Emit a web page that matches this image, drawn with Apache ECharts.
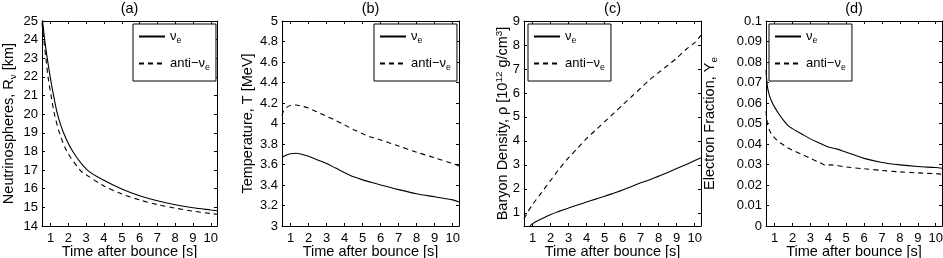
<!DOCTYPE html>
<html>
<head>
<meta charset="utf-8">
<script src="https://cdn.jsdelivr.net/npm/echarts@6.0.0/dist/echarts.min.js"></script>
<style>
html,body{margin:0;padding:0;background:#fff;}
#chart{width:943px;height:258px;}
</style>
</head>
<body>
<div id="chart"></div>
<script>
// ---------------- DATA ----------------
const xTickValues = [1, 2, 3, 4, 5, 6, 7, 8, 9, 10];
const panelTitles = ['(a)', '(b)', '(c)', '(d)'];
const xAxisName = 'Time after bounce [s]';

// (a) Neutrinosphere radius [km]
const aNueTime   = [0.52, 0.67, 0.80, 0.98, 1.17, 1.39, 1.73, 2.25, 3.07, 4, 5, 6, 7, 8, 9, 10, 10.35];
const aNueRadius = [25.3, 24.0, 23.1, 22.0, 21.0, 20.0, 19.0, 18.0, 17.0, 16.45, 15.98, 15.62, 15.35, 15.14, 14.98, 14.86, 14.82];
const aAntiTime   = [0.52, 0.62, 0.74, 0.86, 1.03, 1.22, 1.50, 1.92, 2.66, 3, 4, 5, 6, 7, 8, 9, 10, 10.35];
const aAntiRadius = [24.9, 24.0, 23.0, 22.0, 21.0, 20.0, 19.0, 18.0, 17.0, 16.75, 16.15, 15.72, 15.4, 15.15, 14.96, 14.8, 14.67, 14.63];

// (b) Temperature [MeV]
const bNueTime = [0.52, 0.8, 1.0, 1.3, 1.6, 2, 2.5, 3, 3.5, 4, 4.5, 5, 5.5, 6, 7, 8, 9, 10, 10.35];
const bNueTemp = [3.67, 3.695, 3.705, 3.71, 3.70, 3.68, 3.645, 3.61, 3.565, 3.52, 3.48, 3.45, 3.425, 3.40, 3.355, 3.315, 3.285, 3.255, 3.235];
const bAntiTime = [0.52, 0.6, 0.8, 1.0, 1.3, 1.6, 2, 2.5, 3, 3.5, 4, 4.5, 5, 5.5, 6, 7, 8, 9, 10, 10.35];
const bAntiTemp = [4.08, 4.12, 4.16, 4.175, 4.18, 4.17, 4.15, 4.11, 4.07, 4.03, 3.985, 3.94, 3.9, 3.865, 3.84, 3.78, 3.72, 3.665, 3.61, 3.585];

// (c) Baryon density [1e12 g/cm3]
const cNueTime = [0.85, 1, 1.5, 2, 2.5, 3, 3.5, 4, 4.5, 5, 5.5, 6, 6.5, 7, 7.5, 8, 8.5, 9, 9.5, 10, 10.35];
const cNueDens = [0.45, 0.55, 0.75, 0.93, 1.07, 1.2, 1.33, 1.45, 1.57, 1.69, 1.82, 1.95, 2.1, 2.25, 2.38, 2.53, 2.68, 2.85, 3.0, 3.18, 3.3];
const cAntiTime = [0.52, 0.7, 1, 1.5, 2, 2.5, 3, 3.5, 4, 4.5, 5, 5.5, 6, 6.5, 7, 7.5, 8, 8.5, 9, 9.5, 10, 10.35];
const cAntiDens = [0.75, 1.0, 1.35, 1.85, 2.35, 2.85, 3.3, 3.7, 4.1, 4.45, 4.8, 5.15, 5.5, 5.85, 6.2, 6.55, 6.85, 7.15, 7.45, 7.8, 8.1, 8.4];
const cYTickValues = [1, 2, 3, 4, 5, 6, 7, 8, 9];

// (d) Electron fraction
const dNueTime = [0.52, 0.6, 0.7, 0.85, 1, 1.25, 1.5, 1.75, 2, 2.5, 3, 3.5, 4, 4.5, 5, 5.5, 6, 7, 8, 9, 10, 10.35];
const dNueYe   = [0.076, 0.068, 0.064, 0.0605, 0.058, 0.0545, 0.0515, 0.049, 0.0475, 0.045, 0.0425, 0.0405, 0.0385, 0.0375, 0.036, 0.0345, 0.033, 0.031, 0.0298, 0.029, 0.0285, 0.0282];
const dAntiTime = [0.52, 0.6, 0.7, 0.85, 1, 1.25, 1.5, 1.75, 2, 2.5, 3, 3.5, 3.9, 4.1, 5, 6, 7, 8, 9, 10, 10.35];
const dAntiYe   = [0.056, 0.05, 0.047, 0.0445, 0.043, 0.041, 0.0395, 0.038, 0.037, 0.035, 0.033, 0.031, 0.0295, 0.0298, 0.0288, 0.0279, 0.0271, 0.0264, 0.0259, 0.0255, 0.0253];

// ---------------- LAYOUT / STYLE ----------------
const FONT = "'Liberation Sans', Arial, Helvetica, sans-serif";
const FS = 13;      // tick labels
const FSN = 14.5;   // axis names
const zip = (xs, ys) => xs.map((x, i) => [x, ys[i]]);

const panels = [
  { left: 42, width: 175, yMin: 14, yMax: 25, yInterval: 1, yTicks: null,
    yName: 'Neutrinospheres, R{sub|ν} [km]', yNameGap: 24,
    nue: zip(aNueTime, aNueRadius), anti: zip(aAntiTime, aAntiRadius),
    legendLeft: 133 },
  { left: 282, width: 177, yMin: 3, yMax: 5, yInterval: 0.2, yTicks: null,
    yName: 'Temperature, T [MeV]', yNameGap: 27,
    nue: zip(bNueTime, bNueTemp), anti: zip(bAntiTime, bAntiTemp),
    legendLeft: 374 },
  { left: 524, width: 177, yMin: 0.45, yMax: 9, yInterval: null, yTicks: cYTickValues,
    yName: 'Baryon Density, ρ [10{sup|12} g/cm{sup|3}]', yNameGap: 12,
    nue: zip(cNueTime, cNueDens), anti: zip(cAntiTime, cAntiDens),
    legendLeft: 528 },
  { left: 766, width: 176, yMin: 0, yMax: 0.1, yInterval: 0.01, yTicks: null,
    yName: 'Electron Fraction, Y{sub|e}', yNameGap: 47,
    nue: zip(dNueTime, dNueYe), anti: zip(dAntiTime, dAntiYe),
    legendLeft: 769 }
];

const TOP = 21, HEIGHT = 205;
const XMIN = 0.52, XMAX = 10.35;
const richSub = (fs) => ({
  sub: { fontSize: fs * 0.68, fontFamily: FONT, color: '#000', padding: [8, 0, 0, 0] },
  sup: { fontSize: fs * 0.68, fontFamily: FONT, color: '#000', padding: [0, 0, 8, 0] }
});

const option = {
  backgroundColor: '#fff',
  animation: false,
  textStyle: { fontFamily: FONT },
  title: [], grid: [], xAxis: [], yAxis: [], legend: [], series: []
};

const tickStyle = { show: true, inside: true, length: 3, lineStyle: { color: '#000', width: 1 } };
const lineStyleAxis = { show: true, onZero: false, lineStyle: { color: '#000', width: 1 } };

panels.forEach((p, i) => {
  option.title.push({
    text: panelTitles[i], left: p.left + p.width / 2, top: 1, padding: 0, textAlign: 'center',
    textStyle: { fontSize: FSN, fontWeight: 'normal', color: '#000', fontFamily: FONT }
  });
  option.grid.push({ left: p.left, top: TOP, width: p.width, height: HEIGHT,
    containLabel: false, outerBoundsMode: 'none' });

  const xBase = {
    type: 'value', gridIndex: i, min: XMIN, max: XMAX,
    splitLine: { show: false }, axisLine: lineStyleAxis
  };
  option.xAxis.push(Object.assign({}, xBase, {
    position: 'bottom',
    axisTick: Object.assign({}, tickStyle, { customValues: xTickValues }),
    axisLabel: { customValues: xTickValues, color: '#000', fontSize: FS, fontFamily: FONT, margin: 6 },
    name: xAxisName, nameLocation: 'middle', nameGap: 18, nameMoveOverlap: false,
    nameTextStyle: { color: '#000', fontSize: FSN, fontFamily: FONT }
  }));
  option.xAxis.push(Object.assign({}, xBase, {
    position: 'top',
    axisTick: Object.assign({}, tickStyle, { customValues: xTickValues }),
    axisLabel: { show: false }
  }));

  const yBase = {
    type: 'value', gridIndex: i, min: p.yMin, max: p.yMax,
    splitLine: { show: false }, axisLine: lineStyleAxis
  };
  if (p.yInterval) yBase.interval = p.yInterval;
  const yTick = Object.assign({}, tickStyle);
  const yLab = { color: '#000', fontSize: FS, fontFamily: FONT, margin: 4 };
  if (p.yTicks) { yTick.customValues = p.yTicks; yLab.customValues = p.yTicks; }
  option.yAxis.push(Object.assign({}, yBase, {
    position: 'left', axisTick: yTick, axisLabel: yLab,
    name: p.yName, nameLocation: 'middle', nameGap: p.yNameGap, nameMoveOverlap: false,
    nameTextStyle: { color: '#000', fontSize: FSN, fontFamily: FONT, rich: richSub(FSN) }
  }));
  option.yAxis.push(Object.assign({}, yBase, {
    position: 'right', axisTick: Object.assign({}, yTick), axisLabel: { show: false }
  }));

  const nNue = 'nue' + i, nAnti = 'anti' + i;
  option.series.push({
    name: nNue, type: 'line', xAxisIndex: 2 * i, yAxisIndex: 2 * i,
    data: p.nue, symbol: 'none', smooth: 0.3, clip: true,
    lineStyle: { color: '#000', width: 1.1, type: 'solid' }, itemStyle: { color: '#000' }
  });
  option.series.push({
    name: nAnti, type: 'line', xAxisIndex: 2 * i, yAxisIndex: 2 * i,
    data: p.anti, symbol: 'none', smooth: 0.3, clip: true,
    lineStyle: { color: '#000', width: 1.1, type: [5, 4] }, itemStyle: { color: '#000' }
  });

  option.legend.push({
    data: [nNue, nAnti], orient: 'vertical', left: p.legendLeft, top: 24,
    itemWidth: 26, itemHeight: 12, itemGap: 12,
    padding: [6, 6, 9, 5],
    backgroundColor: '#fff', borderColor: '#000', borderWidth: 1,
    selectedMode: false,
    itemStyle: { opacity: 0, borderWidth: 0 },
    formatter: name => name.startsWith('nue') ? '{t|ν}{sub|e}' : '{t|anti−ν}{sub|e}',
    textStyle: {
      color: '#000', fontSize: FS, fontFamily: FONT,
      rich: Object.assign({ t: { fontSize: FS, fontFamily: FONT, color: '#000' } }, richSub(FS))
    }
  });
});

const chart = echarts.init(document.getElementById('chart'), null, { renderer: 'canvas' });
chart.setOption(option);
</script>
</body>
</html>
